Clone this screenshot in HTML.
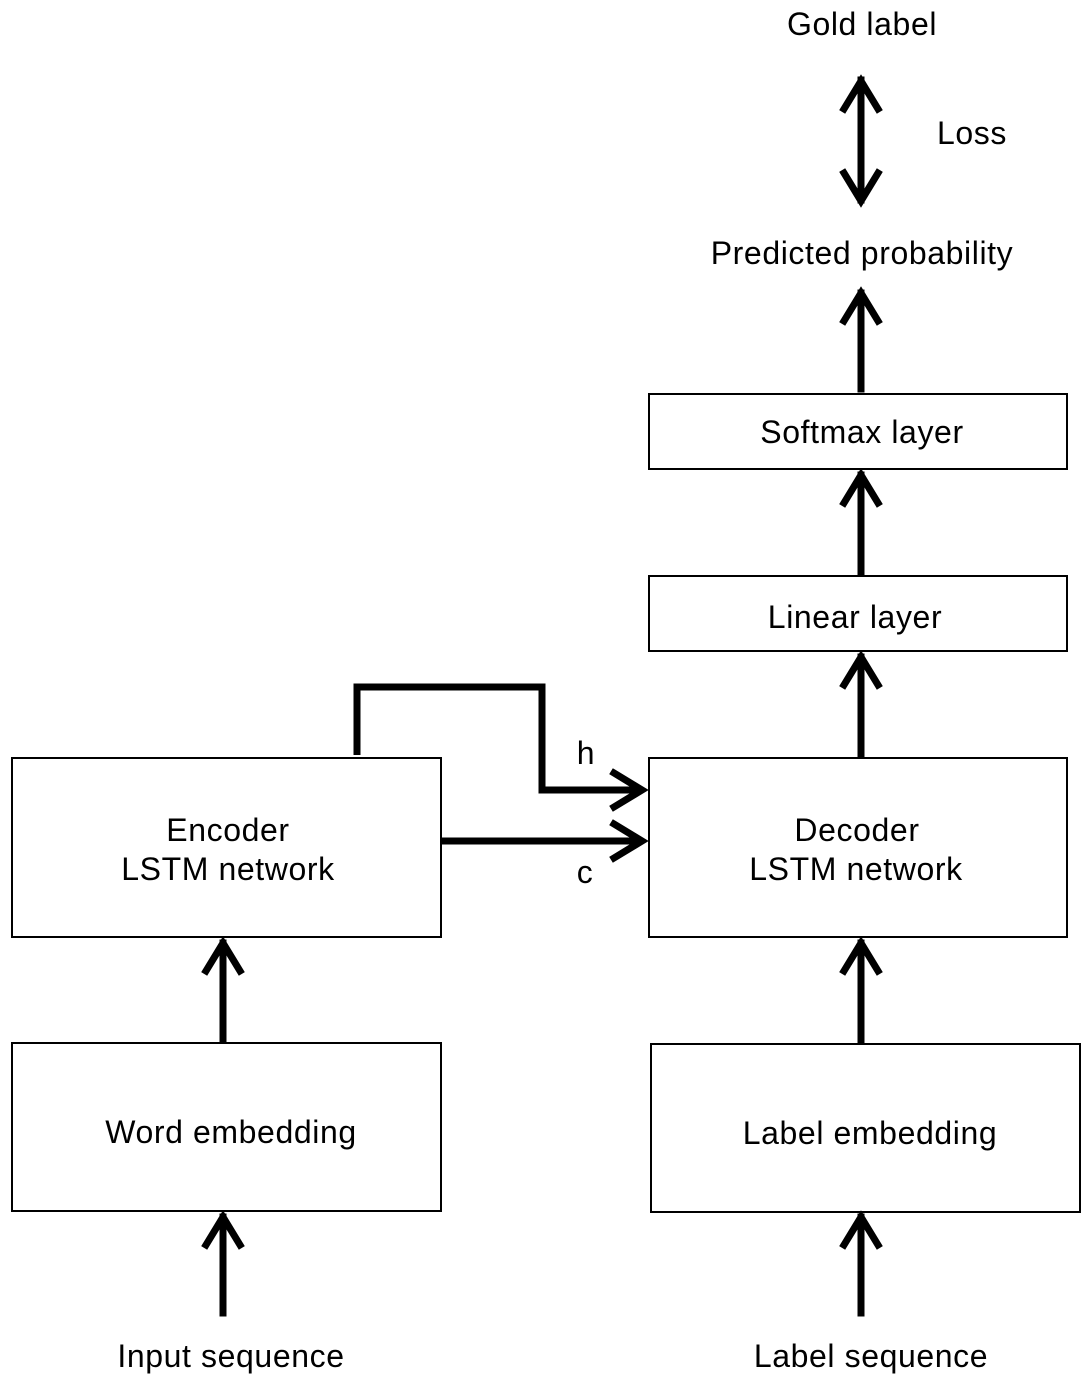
<!DOCTYPE html>
<html><head><meta charset="utf-8"><style>
html,body{margin:0;padding:0;background:#fff;}
svg{display:block;}
text{font-family:"Liberation Sans",Arial,sans-serif;font-size:32px;letter-spacing:0.6px;fill:#000;text-anchor:middle;}
</style></head><body>
<svg width="1090" height="1388" viewBox="0 0 1090 1388" xmlns="http://www.w3.org/2000/svg">
<g fill="#fff" stroke="#000" stroke-width="2">
<rect x="649" y="394" width="418" height="75"/>
<rect x="649" y="576" width="418" height="75"/>
<rect x="649" y="758" width="418" height="179"/>
<rect x="12" y="758" width="429" height="179"/>
<rect x="12" y="1043" width="429" height="168"/>
<rect x="651" y="1044" width="429" height="168"/>
</g>
<g fill="none" stroke="#000" stroke-width="7" stroke-linejoin="miter" stroke-linecap="square">
<line x1="861" y1="80" x2="861" y2="200"/>
<polyline points="844,109 861,81 878,109"/>
<polyline points="844,173 861,201 878,173"/>
<line x1="861" y1="389" x2="861" y2="293"/>
<polyline points="844,321 861,293 878,321"/>
<line x1="861" y1="573" x2="861" y2="475"/>
<polyline points="844,503 861,475 878,503"/>
<line x1="861" y1="755" x2="861" y2="657"/>
<polyline points="844,685 861,657 878,685"/>
<line x1="861" y1="1040" x2="861" y2="943"/>
<polyline points="844,971 861,943 878,971"/>
<line x1="861" y1="1313" x2="861" y2="1217"/>
<polyline points="844,1245 861,1217 878,1245"/>
<line x1="223" y1="1040" x2="223" y2="943"/>
<polyline points="206,971 223,943 240,971"/>
<line x1="223" y1="1313" x2="223" y2="1217"/>
<polyline points="206,1245 223,1217 240,1245"/>
<polyline points="357,755 357,687 542,687 542,790 640,790" stroke-linecap="butt"/>
<polyline points="614,773 642,790 614,807"/>
<line x1="442" y1="841" x2="640" y2="841" stroke-linecap="butt"/>
<polyline points="614,824 642,841 614,858"/>
</g>
<text x="862" y="35">Gold label</text>
<text x="972" y="144">Loss</text>
<text x="862" y="264">Predicted probability</text>
<text x="862" y="443">Softmax layer</text>
<text x="855" y="628">Linear layer</text>
<text x="857" y="841">Decoder</text>
<text x="856" y="880">LSTM network</text>
<text x="228" y="841">Encoder</text>
<text x="228" y="880">LSTM network</text>
<text x="586" y="764">h</text>
<text x="585" y="883">c</text>
<text x="231" y="1143">Word embedding</text>
<text x="870" y="1144">Label embedding</text>
<text x="231" y="1367">Input sequence</text>
<text x="871" y="1367">Label sequence</text>
</svg>
</body></html>
